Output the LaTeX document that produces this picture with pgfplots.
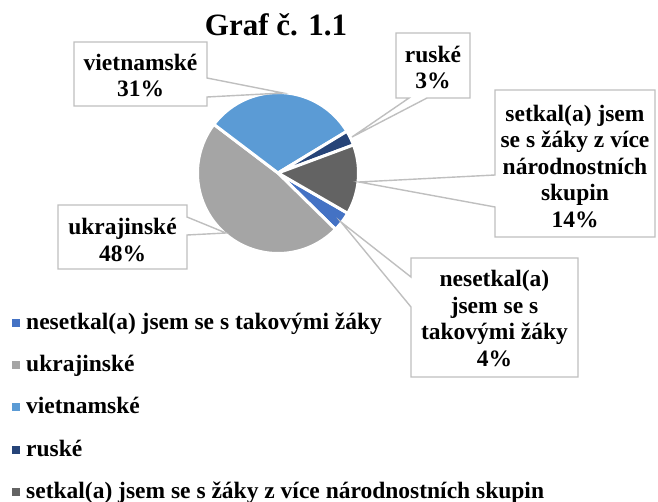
\documentclass[border=0pt]{standalone}
\usepackage{pgfplots}
\pgfplotsset{compat=1.18}
\usepackage{fontspec}
\setmainfont{Liberation Serif}
\definecolor{cA}{HTML}{4472C4}
\definecolor{cB}{HTML}{A5A5A5}
\definecolor{cC}{HTML}{5B9BD5}
\definecolor{cD}{HTML}{264478}
\definecolor{cE}{HTML}{636363}
\definecolor{boxc}{HTML}{BFBFBF}
\newcommand\lbl{\fontsize{23.5bp}{26.5bp}\selectfont\bfseries}
\begin{document}
\begin{tikzpicture}
% data (percent)
\def\vA{4}  % nesetkal(a) jsem se s takovymi zaky
\def\vB{48} % ukrajinske
\def\vC{31} % vietnamske
\def\vD{3}  % ruske
\def\vE{14} % setkal(a) jsem se s zaky z vice narodnostnich skupin
\pgfmathsetmacro\sA{-30}
\pgfmathsetmacro\eA{\sA-3.6*\vA}
\pgfmathsetmacro\eB{\eA-3.6*\vB}
\pgfmathsetmacro\eC{\eB-3.6*\vC}
\pgfmathsetmacro\eD{\eC-3.6*\vD}
\pgfmathsetmacro\eE{\eD-3.6*\vE}
\path[use as bounding box] (0,0) rectangle (658bp,-502bp);
\begin{axis}[at={(278bp,-173bp)}, anchor=center, scale only axis,
  width=161bp, height=161bp, xmin=-1, xmax=1, ymin=-1, ymax=1,
  hide axis, clip=false]
\addplot[fill=cA, draw=white, line width=3bp, line join=round, domain=\eA:\sA, samples=12, variable=\t] ({cos(\t)},{sin(\t)}) -- (0,0) -- cycle;
\addplot[fill=cB, draw=white, line width=3bp, line join=round, domain=\eB:\eA, samples=80, variable=\t] ({cos(\t)},{sin(\t)}) -- (0,0) -- cycle;
\addplot[fill=cC, draw=white, line width=3bp, line join=round, domain=\eC:\eB, samples=50, variable=\t] ({cos(\t)},{sin(\t)}) -- (0,0) -- cycle;
\addplot[fill=cD, draw=white, line width=3bp, line join=round, domain=\eD:\eC, samples=10, variable=\t] ({cos(\t)},{sin(\t)}) -- (0,0) -- cycle;
\addplot[fill=cE, draw=white, line width=3bp, line join=round, domain=\eE:\eD, samples=30, variable=\t] ({cos(\t)},{sin(\t)}) -- (0,0) -- cycle;
\end{axis}
\begin{scope}[x=1bp, y=-1bp]
% title
\node[anchor=base, font=\fontsize{31bp}{36bp}\selectfont\bfseries, inner sep=0] at (276,35.5) {Graf č. 1.1};
% callouts
\draw[boxc, line width=1.4bp, fill=white, line join=miter] (74,42) -- (207,42) -- (207,78) -- (283,93) -- (207,97) -- (207,106) -- (74,106) -- cycle;
\draw[boxc, line width=1.4bp, fill=white] (396,33) -- (470,33) -- (470,98) -- (427,98) -- (352,137) -- (409,98) -- (396,98) -- cycle;
\draw[boxc, line width=1.4bp, fill=white] (495,90) -- (655,90) -- (655,237) -- (495,237) -- (495,207) -- (359,182) -- (495,175) -- cycle;
\draw[boxc, line width=1.4bp, fill=white] (58,205) -- (187,205) -- (187,217) -- (226,233) -- (187,235) -- (187,269) -- (58,269) -- cycle;
\draw[boxc, line width=1.4bp, fill=white] (411,258) -- (578,258) -- (578,377) -- (411,377) -- (411,307) -- (341,222) -- (411,277) -- cycle;
\node[align=center, font=\lbl, inner sep=0] at (140.5,75.5) {vietnamské\\31\%};
\node[align=center, font=\lbl, inner sep=0] at (433,67.5) {ruské\\3\%};
\node[align=center, font=\lbl, inner sep=0] at (575,166.5) {setkal(a) jsem\\se s žáky z více\\národnostních\\skupin\\14\%};
\node[align=center, font=\lbl, inner sep=0] at (122.5,240) {ukrajinské\\48\%};
\node[align=center, font=\lbl, inner sep=0] at (494.5,318.5) {nesetkal(a)\\jsem se s\\takovými žáky\\4\%};
% legend
\foreach \c/\t [count=\i from 0] in {cA/nesetkal(a) jsem se s takovými žáky, cB/ukrajinské, cC/vietnamské, cD/ruské, cE/setkal(a) jsem se s žáky z více národnostních skupin}{
  \pgfmathsetmacro\yy{323+42.2*\i}
  \fill[\c] (12,\yy-4) rectangle (20,\yy+4);
  \node[anchor=base west, font=\lbl, inner sep=0] at (26,\yy+6.5) {\t};
}
\end{scope}
\end{tikzpicture}
\end{document}
